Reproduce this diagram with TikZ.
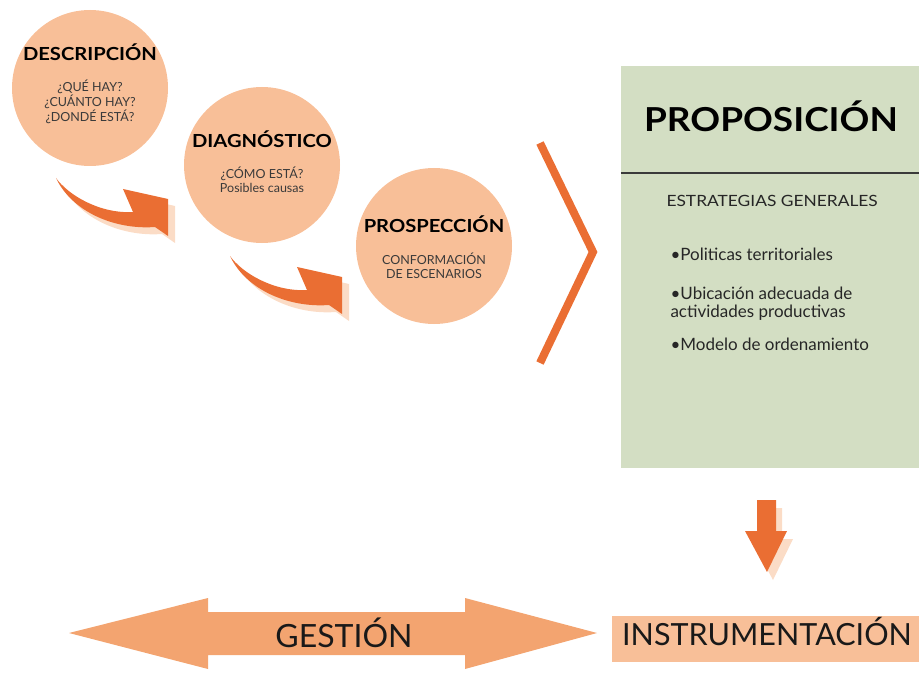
\documentclass[tikz,border=0pt]{standalone}
\usepackage{fontspec}
\setmainfont{Lato}
\newfontfamily\widefont[FakeStretch=1.12]{Lato}
\usepackage{xcolor}
\usetikzlibrary{positioning}

\definecolor{peach}{HTML}{F8BF98}
\definecolor{arroworange}{HTML}{EA6E33}
\definecolor{shadowpeach}{HTML}{FBDCC6}
\definecolor{sage}{HTML}{D3DEC3}
\definecolor{gestfill}{HTML}{F3A470}
\definecolor{textgray}{HTML}{3A3A3A}

\begin{document}
\begin{tikzpicture}[x=1pt,y=-1pt,
      stage_circle/.style={
         circle,
         fill=peach,
         inner sep=0pt,
         minimum size=156pt},
      stage_title/.style={
         anchor=base,
         font=\widefont\bfseries\fontsize{18}{20}\selectfont},
      stage_text/.style={
         align=center,
         text=textgray,
         font=\fontsize{12.5}{13.5}\selectfont},
      prop_box/.style={
         rectangle,
         fill=sage,
         inner sep=0pt,
         minimum width=298pt,
         minimum height=402pt},
      prop_item/.style={
         anchor=base west,
         align=left,
         text=black!85,
         font=\fontsize{17}{18}\selectfont},
      chevron/.style={
         draw=arroworange,
         line width=8pt,
         miter limit=10},
      big_label/.style={
         font=\fontsize{32}{34}\selectfont,
         text=black!90}
]
      \useasboundingbox (0,0) rectangle (919,674);

      %stages
      \foreach \n/\x/\y in {desc/90/88, diag/262/165, prosp/434/246}
        \node[stage_circle] (\n) at (\x,\y) {};

      \node[stage_title] (desc_title) at (90,61) {DESCRIPCIÓN};
      \node[stage_title] (diag_title) at (262,148) {DIAGNÓSTICO};
      \node[stage_title] (prosp_title) at (434,233) {PROSPECCIÓN};

      \node[stage_text] (desc_text) at (90,102) {¿QUÉ HAY?\\¿CUÁNTO HAY?\\¿DONDÉ ESTÁ?};
      \node[stage_text] (diag_text) at (262,180) {¿CÓMO ESTÁ?\\Posibles causas};
      \node[stage_text] (prosp_text) at (434,266) {CONFORMACIÓN\\DE ESCENARIOS};

      %bent arrows with their shadow
      \foreach \dx/\dy in {0/0, 174/78}
        \foreach \c/\o in {shadowpeach/7, arroworange/0}
          \fill[\c, shift={(\dx+\o,\dy+\o)}] (56,178)
             .. controls (68,195) and (100,214) .. (133,212)
             -- (123,189) -- (168,199) -- (168,236) -- (155,227)
             .. controls (115,230) and (72,212) .. cycle;

      \draw[chevron] (540,143) -- (593,252) -- (540,363);

      %proposition
      \node[prop_box] (prop) at (770,267) {};
      \draw[line width=2pt, textgray] (prop.west |- 0,173) -- (prop.east |- 0,173);
      \node[font=\widefont\bfseries\fontsize{33}{36}\selectfont, anchor=base] (prop_title) at (771,132) {PROPOSICIÓN};
      \node[anchor=base west, text=black!85, font=\widefont\fontsize{15.5}{17}\selectfont] (strat) at (663,207) {ESTRATEGIAS GENERALES};
      \node[prop_item] (item1) at (667,260) {•Politicas territoriales};
      \node[prop_item] (item2) at (667,317) {•Ubicación adecuada de\\actividades productivas};
      \node[prop_item] (item3) at (667,350) {•Modelo de ordenamiento};

      %down arrow
      \foreach \c/\ox/\oy in {shadowpeach/6/8, arroworange/0/0}
        \fill[\c, shift={(\ox,\oy)}] (757,500) -- (776,500) -- (776,531) -- (787,531)
           -- (767,572) -- (745,531) -- (757,531) -- cycle;

      %gestion
      \fill[gestfill] (69,633) -- (208,598) -- (208,612) -- (465,612) -- (465,598)
         -- (597,633) -- (465,669) -- (465,655) -- (208,655) -- (208,669) -- cycle;
      \node[big_label] (gestion) at (344,633) {GESTIÓN};

      \node[big_label, font=\fontsize{30.5}{34}\selectfont, fill=peach, anchor=west,
            inner xsep=10pt, inner ysep=0pt, text height=23pt, text depth=10pt,
            minimum height=46pt] (instr) at (612,639) {INSTRUMENTACIÓN};

\end{tikzpicture}
\end{document}
